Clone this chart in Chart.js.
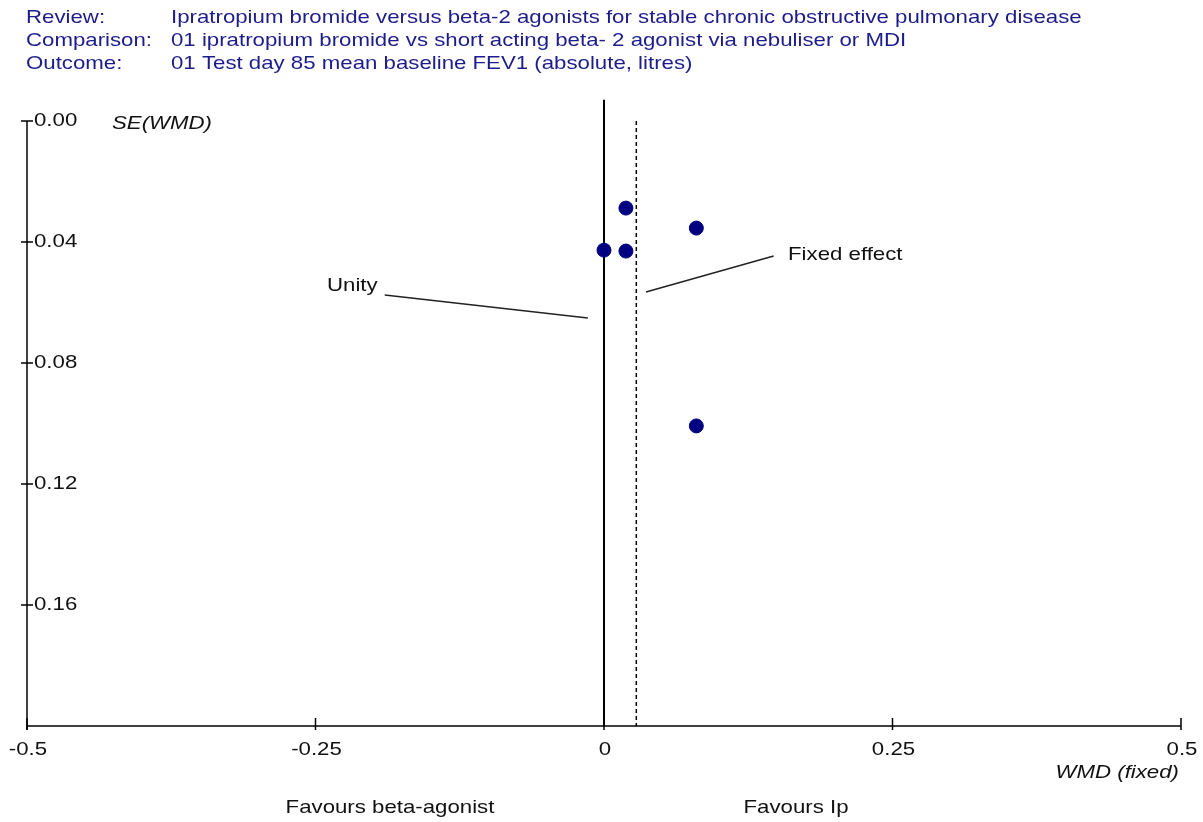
<!DOCTYPE html>
<html>
<head>
<meta charset="utf-8">
<script src="https://cdn.jsdelivr.net/npm/chart.js@4/dist/chart.umd.min.js"></script>
<style>
  html, body { margin: 0; padding: 0; background: #fff; }
  #wrap { width: 1203px; height: 822px; position: relative; }
</style>
</head>
<body>
<div id="wrap"><canvas id="funnel"></canvas></div>
<script>
// Funnel plot data (WMD vs SE)
const studyWmd = [0, 0.019, 0.019, 0.08, 0.08];
const studySe = [0.0427, 0.0288, 0.043, 0.0354, 0.1008];
const fixedEffect = 0.028;
const xTicks = [-0.5, -0.25, 0, 0.25, 0.5];
const xTickLabels = ['-0.5', '-0.25', '0', '0.25', '0.5'];
const yTicks = [0, 0.04, 0.08, 0.12, 0.16];
const yTickLabels = ['0.00', '0.04', '0.08', '0.12', '0.16'];
const headerKeys = ['Review:', 'Comparison:', 'Outcome:'];
const headerValues = [
    'Ipratropium bromide versus beta-2 agonists for stable chronic obstructive pulmonary disease',
    '01 ipratropium bromide vs short acting beta- 2 agonist via nebuliser or MDI',
    '01 Test day 85 mean baseline FEV1 (absolute, litres)'
];
// label pointers (data coords)
const unityPointer = [{x: -0.19, y: 0.0575}, {x: -0.014, y: 0.0651}];
const fixedPointer = [{x: 0.0364, y: 0.0565}, {x: 0.147, y: 0.0446}];

const FONT = '"Liberation Sans", Arial, sans-serif';
const STRETCH = 1.17; // the old plot uses a wide bitmap font

function wideText(ctx, text, x, y, align) {
    ctx.save();
    ctx.translate(x, y);
    ctx.scale(STRETCH, 1);
    ctx.textAlign = align;
    ctx.fillText(text, 0, 0);
    ctx.restore();
}

// draws axes, ticks and all the text
const axesPlugin = {
    id: 'funnelAxes',
    afterDraw(chart) {
        const ctx = chart.ctx;
        const xs = chart.scales.x;
        const ys = chart.scales.y;
        const area = chart.chartArea;
        ctx.save();
        ctx.strokeStyle = '#000';
        ctx.lineWidth = 1.5;

        // y axis
        ctx.beginPath();
        ctx.moveTo(area.left, area.top);
        ctx.lineTo(area.left, area.bottom + 4);
        ctx.stroke();
        ctx.font = '19px ' + FONT;
        ctx.fillStyle = '#111';
        ctx.textBaseline = 'middle';
        yTicks.forEach((v, i) => {
            const py = ys.getPixelForValue(v);
            ctx.beginPath();
            ctx.moveTo(area.left - 6, py);
            ctx.lineTo(area.left + 6, py);
            ctx.stroke();
            wideText(ctx, yTickLabels[i], area.left + 7, py, 'left');
        });

        // x axis
        ctx.beginPath();
        ctx.moveTo(area.left, area.bottom);
        ctx.lineTo(area.right, area.bottom);
        ctx.stroke();
        xTicks.forEach((v, i) => {
            const px = xs.getPixelForValue(v);
            ctx.beginPath();
            ctx.moveTo(px, area.bottom - 8);
            ctx.lineTo(px, area.bottom + 4);
            ctx.stroke();
            wideText(ctx, xTickLabels[i], px + 1, area.bottom + 24, 'center');
        });

        // axis titles
        ctx.font = 'italic 19px ' + FONT;
        wideText(ctx, 'SE(WMD)', 112, 124, 'left');
        wideText(ctx, 'WMD (fixed)', 1179, 773, 'right');

        ctx.font = '19px ' + FONT;
        wideText(ctx, 'Favours beta-agonist', 390, 808, 'center');
        wideText(ctx, 'Favours Ip', 796, 808, 'center');

        // pointer labels
        wideText(ctx, 'Unity', 327, 286, 'left');
        wideText(ctx, 'Fixed effect', 788, 255, 'left');

        // header
        ctx.fillStyle = '#1c1c8c';
        headerKeys.forEach((k, i) => {
            const py = 18 + i * 23;
            wideText(ctx, k, 26, py, 'left');
            wideText(ctx, headerValues[i], 171, py, 'left');
        });
        ctx.restore();
    }
};

const ctx = document.getElementById('funnel').getContext('2d');
new Chart(ctx, {
    type: 'scatter',
    data: {
        datasets: [
            {
                label: 'Studies',
                data: studyWmd.map((x, i) => ({x: x, y: studySe[i]})),
                backgroundColor: '#000080',
                borderColor: '#000080',
                pointRadius: 7,
                pointHoverRadius: 7,
                order: 0
            },
            {
                label: 'Unity',
                type: 'line',
                data: [{x: 0, y: -0.007}, {x: 0, y: 0.2}],
                borderColor: '#000',
                borderWidth: 2,
                pointRadius: 0,
                clip: false,
                order: 1
            },
            {
                label: 'Fixed effect',
                type: 'line',
                data: [{x: fixedEffect, y: 0}, {x: fixedEffect, y: 0.2}],
                borderColor: '#000',
                borderWidth: 1.5,
                borderDash: [4, 3],
                pointRadius: 0,
                order: 1
            },
            {
                label: 'Unity pointer',
                type: 'line',
                data: unityPointer,
                borderColor: '#222',
                borderWidth: 1.5,
                pointRadius: 0,
                order: 1
            },
            {
                label: 'Fixed pointer',
                type: 'line',
                data: fixedPointer,
                borderColor: '#222',
                borderWidth: 1.5,
                pointRadius: 0,
                order: 1
            }
        ]
    },
    options: {
        responsive: true,
        maintainAspectRatio: false,
        animation: false,
        layout: {
            padding: {left: 27, right: 22, top: 121, bottom: 96}
        },
        plugins: {
            legend: {display: false},
            tooltip: {enabled: false}
        },
        scales: {
            x: {
                type: 'linear',
                min: -0.5,
                max: 0.5,
                display: false
            },
            y: {
                type: 'linear',
                min: 0,
                max: 0.2,
                reverse: true,
                display: false
            }
        }
    },
    plugins: [axesPlugin]
});
</script>
</body>
</html>
